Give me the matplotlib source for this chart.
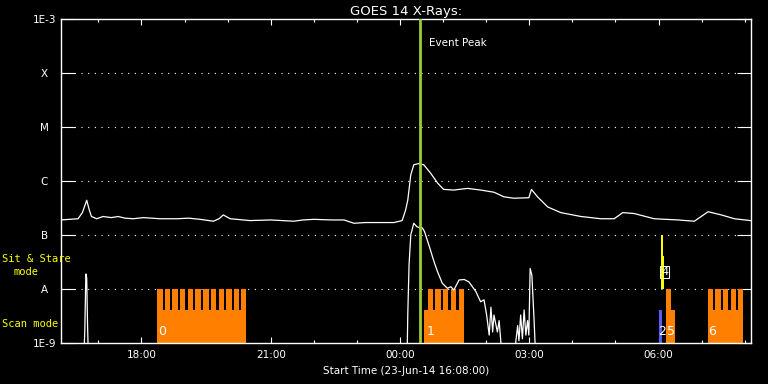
"""
GOES 14 X-Rays plot with observing mode bars
"""

import matplotlib
matplotlib.use('Agg')
import matplotlib.pyplot as plt


# =============================================================================
# DATA  (time = hours since 23-Jun-14 00:00)
# =============================================================================

T_START = 16 + 8 / 60.0
T_END = T_START + 16.0

long_time = [16.13, 16.53, 16.63, 16.73, 16.79, 16.84, 16.96, 17.11, 17.30, 17.46,
             17.62, 17.81, 18.05, 18.43, 18.82, 19.10, 19.36, 19.67, 19.80, 19.90,
             20.06, 20.52, 21.00, 21.53, 21.75, 22.00, 22.40, 22.70, 22.93, 23.20,
             23.47, 23.86, 24.05, 24.13, 24.18, 24.25, 24.32, 24.43, 24.55, 24.71,
             24.87, 25.01, 25.25, 25.57, 25.87, 26.18, 26.41, 26.64, 26.99, 27.05,
             27.19, 27.43, 27.73, 28.20, 28.66, 28.97, 29.17, 29.43, 29.90, 30.45,
             30.83, 31.15, 31.46, 31.76, 32.13]
long_flux = [1.9e-7, 2.0e-7, 2.6e-7, 4.4e-7, 2.9e-7, 2.2e-7, 2.0e-7, 2.2e-7, 2.1e-7, 2.2e-7,
             2.05e-7, 2.0e-7, 2.1e-7, 2.0e-7, 2.0e-7, 2.05e-7, 1.95e-7, 1.8e-7, 2.0e-7, 2.35e-7,
             2.0e-7, 1.85e-7, 1.9e-7, 1.8e-7, 1.9e-7, 1.95e-7, 1.9e-7, 1.9e-7, 1.65e-7, 1.7e-7,
             1.7e-7, 1.7e-7, 1.85e-7, 2.9e-7, 4.4e-7, 1.3e-6, 2.0e-6, 2.1e-6, 2.0e-6, 1.4e-6,
             9.2e-7, 7.0e-7, 6.8e-7, 7.3e-7, 6.8e-7, 6.2e-7, 5.1e-7, 4.8e-7, 4.9e-7, 7.0e-7,
             5.1e-7, 3.3e-7, 2.6e-7, 2.2e-7, 2.0e-7, 2.0e-7, 2.6e-7, 2.5e-7, 2.0e-7, 1.9e-7,
             1.8e-7, 2.7e-7, 2.35e-7, 2.0e-7, 1.85e-7]

short_time = [16.13, 16.66, 16.685, 16.71, 16.73, 16.75, 16.77, 24.13, 24.17, 24.18,
              24.21, 24.25, 24.32, 24.39, 24.44, 24.52, 24.57, 24.67, 24.79, 24.87,
              24.98, 25.10, 25.18, 25.25, 25.37, 25.49, 25.60, 25.68, 25.76, 25.87,
              25.95, 26.01, 26.07, 26.11, 26.15, 26.18, 26.26, 26.30, 26.34, 26.42,
              26.64, 26.73, 26.76, 26.80, 26.84, 26.88, 26.92, 26.96, 26.99, 27.02,
              27.06, 27.11, 27.15, 32.13]
short_flux = [5e-10, 5e-10, 1.6e-9, 1.9e-8, 1.6e-8, 2.0e-9, 5e-10, 5e-10, 1.0e-9, 3.3e-9,
              2.8e-8, 1.0e-7, 1.65e-7, 1.43e-7, 1.37e-7, 1.35e-7, 1.15e-7, 6.5e-8, 3.2e-8, 2.1e-8,
              1.28e-8, 1.03e-8, 1.1e-8, 9.6e-9, 1.47e-8, 1.5e-8, 1.35e-8, 1.1e-8, 9.0e-9, 5.8e-9,
              6.3e-9, 3.3e-9, 1.4e-9, 4.6e-9, 1.6e-9, 3.3e-9, 1.6e-9, 2.6e-9, 1.05e-9, 5e-10,
              5e-10, 2.1e-9, 1.1e-9, 3.3e-9, 1.2e-9, 4.1e-9, 1.4e-9, 2.6e-9, 1.4e-9, 2.4e-8,
              1.8e-8, 2.8e-9, 5e-10, 5e-10]

event_peak = 24.463

# scan mode: base blocks and the taller "teeth"
scan_start = [18.363, 24.55, 30.18, 31.155]
scan_end = [20.432, 25.48, 30.39, 31.97]
scan_label = ['0', '1', '5', '6']
scan_label_x = [18.384, 24.625, 30.19, 31.145]

tooth_start = [18.36, 18.54, 18.71, 18.89, 19.07, 19.25, 19.43, 19.61, 19.79, 19.96, 20.14, 20.32,
               24.64, 24.82, 25.00, 25.18, 25.36,
               30.18,
               31.155, 31.32, 31.50, 31.68, 31.85]
tooth_end = [18.49, 18.67, 18.84, 19.02, 19.20, 19.38, 19.56, 19.74, 19.91, 20.09, 20.27, 20.43,
             24.76, 24.94, 25.12, 25.30, 25.48,
             30.29,
             31.26, 31.44, 31.62, 31.80, 31.97]

# other mode bars near 06:00
blue_start, blue_end = 30.02, 30.085
stare_start = [30.06, 30.11]
stare_end = [30.11, 30.13]
stare_top = [1e-7, 4.1e-8]

BASE = 1e-9
LOW = 4.1e-9
MID = 1e-8

ytick_vals = [1e-9, 1e-8, 1e-7, 1e-6, 1e-5, 1e-4, 1e-3]
ytick_labels = ['1E-9', 'A', 'B', 'C', 'M', 'X', '1E-3']
xtick_vals = [18, 21, 24, 27, 30]
xtick_labels = ['18:00', '21:00', '00:00', '03:00', '06:00']
xminor_vals = list(range(17, 33))

ORANGE = '#ff8000'

# =============================================================================
# PLOT
# =============================================================================

fig = plt.figure(figsize=(7.68, 3.84), dpi=100, facecolor='black')
ax = fig.add_axes([61 / 768, 41 / 384, 689.5 / 768, 324 / 384], facecolor='black')
ax.set_yscale('log')
ax.set_xlim(T_START, T_END)
ax.set_ylim(1e-9, 1e-3)

# mode bars
ax.bar(scan_start, [LOW - BASE] * len(scan_start),
       width=[e - s for s, e in zip(scan_start, scan_end)],
       bottom=BASE, align='edge', color=ORANGE, linewidth=0, zorder=2)
ax.bar(tooth_start, [MID - BASE] * len(tooth_start),
       width=[e - s for s, e in zip(tooth_start, tooth_end)],
       bottom=BASE, align='edge', color=ORANGE, linewidth=0, zorder=2)
ax.bar([blue_start], [LOW - BASE], width=[blue_end - blue_start], bottom=BASE,
       align='edge', color='#5a5aff', linewidth=0, zorder=2)
ax.bar(stare_start, [t - MID for t in stare_top],
       width=[e - s for s, e in zip(stare_start, stare_end)],
       bottom=MID, align='edge', color='#ffff00', linewidth=0, zorder=2)

# dotted class levels
for yv in ytick_vals[1:-1]:
    ax.axhline(yv, color='white', lw=0.8, ls=(0, (1, 5)), zorder=1)

# light curves
ax.plot(long_time, long_flux, color='white', lw=0.9, zorder=3)
ax.plot(short_time, short_flux, color='white', lw=0.9, zorder=3)

# event peak
ax.axvline(event_peak, color='#9acd32', lw=2, zorder=4)
ax.text(event_peak + 0.22, 10 ** -3.45, 'Event Peak', color='white', fontsize=7.5,
        va='center', ha='left')

# bar labels
for lab, xl in zip(scan_label, scan_label_x):
    ax.text(xl, 1.6e-9, lab, color='white', fontsize=9, va='center', ha='left', zorder=5)
ax.text(29.98, 1.6e-9, '2', color='white', fontsize=9, va='center', ha='left', zorder=5)
ax.text(30.14, 2.07e-8, '4', color='white', fontsize=8, va='center', ha='center', zorder=5,
        bbox=dict(boxstyle='square,pad=0.1', fc='none', ec='white', lw=0.7))

# axes styling
for sp in ax.spines.values():
    sp.set_color('white')
    sp.set_linewidth(1.0)

ax.set_xticks(xtick_vals)
ax.set_xticklabels(xtick_labels)
ax.set_xticks(xminor_vals, minor=True)
ax.set_yticks(ytick_vals)
ax.set_yticklabels(ytick_labels)
ax.yaxis.set_minor_locator(matplotlib.ticker.NullLocator())

ax.tick_params(axis='x', which='major', direction='in', length=4.5, width=0.8,
               colors='white', labelsize=7.5, top=True, pad=5)
ax.tick_params(axis='x', which='minor', direction='in', length=2.3, width=0.8,
               colors='white', top=True)
ax.tick_params(axis='y', which='major', direction='in', length=10, width=0.8,
               colors='white', labelsize=7.5, right=True, pad=12)
for lbl in ax.get_yticklabels():
    lbl.set_horizontalalignment('center')

ax.set_title('GOES 14 X-Rays:', color='white', fontsize=9.5, pad=3)
ax.set_xlabel('Start Time (23-Jun-14 16:08:00)', color='white', fontsize=7.5, labelpad=4)

# mode legend on the left
fig.text(2 / 768, 1 - 259 / 384, 'Sit & Stare', color='#ffff00', fontsize=7.5,
         family='DejaVu Sans Mono', va='center', ha='left')
fig.text(13 / 768, 1 - 272 / 384, 'mode', color='#ffff00', fontsize=7.5,
         family='DejaVu Sans Mono', va='center', ha='left')
fig.text(2 / 768, 1 - 324 / 384, 'Scan mode', color='#ffff00', fontsize=7.5,
         family='DejaVu Sans Mono', va='center', ha='left')

fig.savefig('out.png', dpi=100, facecolor='black')
